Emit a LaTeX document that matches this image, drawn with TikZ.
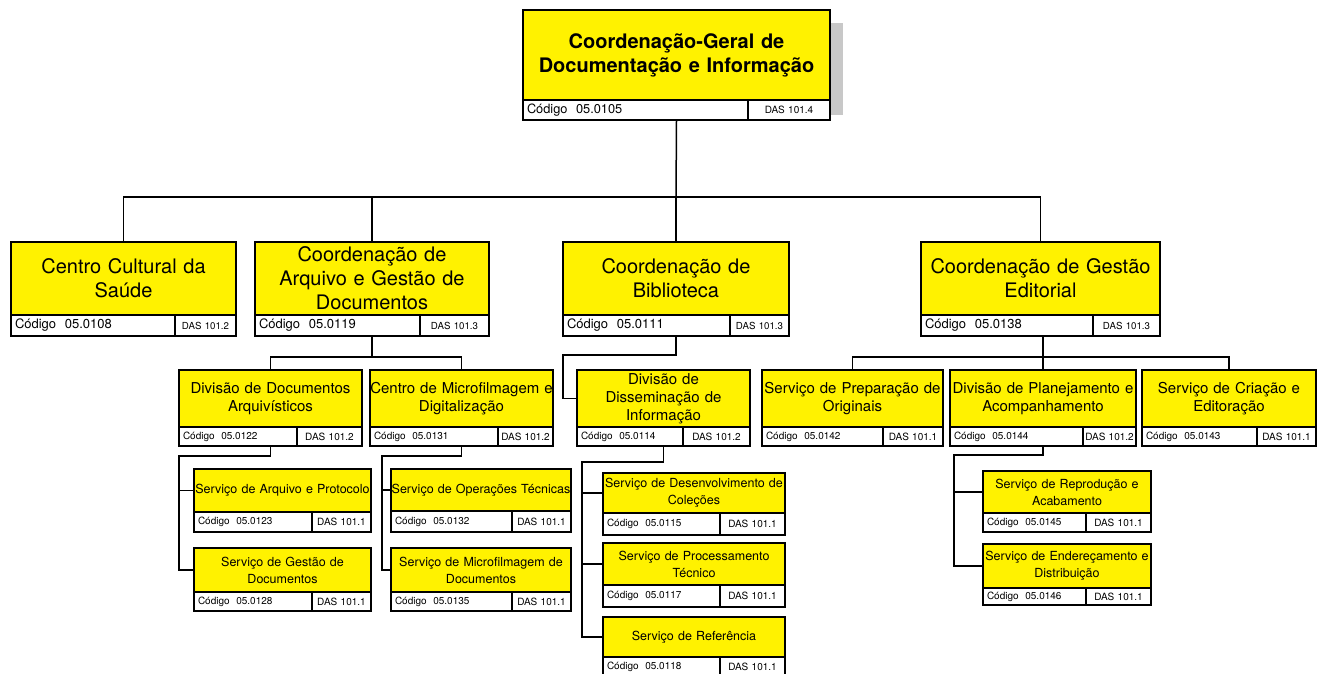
\documentclass[tikz,border=0pt]{standalone}
\usepackage{fontspec}
\setmainfont{TeX Gyre Heros}
\definecolor{myyellow}{RGB}{255,242,0}
\definecolor{shadowgray}{RGB}{200,200,200}
\tikzset{
  ybox/.style={draw, line width=1.5pt, fill=myyellow, inner xsep=0pt, inner ysep=0pt, outer sep=0pt, align=center},
  wbox/.style={draw, line width=1.5pt, fill=white, inner ysep=0pt, outer sep=0pt},
  conn/.style={line width=1.5pt},
  yfont/.style={}, cfont/.style={}, dfont/.style={}
}
\newcommand\obox[8]{%
  \def\on{#1}\def\oxa{#2}\def\oya{#3}\def\oxb{#4}\def\oyb{#5}\def\oyc{#6}\def\oxd{#7}\def\otext{#8}\oboxcont}
\newcommand\oboxcont[2]{%
  \pgfmathsetmacro\ow{\oxb-\oxa}%
  \pgfmathsetmacro\oh{\oyb-\oya}%
  \pgfmathsetmacro\cw{\oxd-\oxa-8}%
  \pgfmathsetmacro\dw{\oxb-\oxd}%
  \pgfmathsetmacro\ch{\oyc-\oyb}%
  \node[ybox, yfont, text width=\ow pt, minimum height=\oh pt, anchor=north west] (\on) at (\oxa,\oya) {\otext};
  \node[wbox, cfont, text width=\cw pt, align=left, inner xsep=4pt, minimum height=\ch pt, anchor=north west] (\on-c) at (\oxa,\oyb) {Código\ \ #1};
  \node[wbox, dfont, text width=\dw pt, align=center, inner xsep=0pt, minimum height=\ch pt, anchor=north west] (\on-d) at (\oxd,\oyb) {DAS #2};
}
\begin{document}
\begin{tikzpicture}[x=1pt,y=-1pt]
\useasboundingbox (0,0) rectangle (1319,673);
% shadow of top box
\fill[shadowgray] (830,23) rectangle (843,115);
% level 1
\tikzset{yfont/.style={font=\fontsize{20}{24}\selectfont\bfseries},
  cfont/.style={font=\fontsize{12.8}{14}\selectfont},
  dfont/.style={font=\fontsize{10}{12}\selectfont}}
\obox{cg}{523}{10}{830}{100}{120}{748}{Coordenação-Geral de\\Documentação e Informação}{05.0105}{101.4}
% level 2
\tikzset{yfont/.style={font=\fontsize{20}{24}\selectfont},
  cfont/.style={font=\fontsize{13}{15}\selectfont},
  dfont/.style={font=\fontsize{9.7}{12}\selectfont}}
\obox{cc}{11}{242}{236}{315}{336}{175}{Centro Cultural da\\Saúde}{05.0108}{101.2}
\obox{arq}{255}{242}{489}{315}{336}{420}{Coordenação de\\Arquivo e Gestão de\\Documentos}{05.0119}{101.3}
\obox{bib}{563}{242}{789}{315}{336}{730}{Coordenação de\\Biblioteca}{05.0111}{101.3}
\obox{edit}{921}{242}{1160}{315}{336}{1093}{Coordenação de Gestão\\Editorial}{05.0138}{101.3}
% level 3
\tikzset{yfont/.style={font=\fontsize{15}{18}\selectfont},
  cfont/.style={font=\fontsize{10}{12}\selectfont},
  dfont/.style={font=\fontsize{10}{12}\selectfont}}
\obox{dda}{179}{370}{362}{427}{446}{297}{Divisão de Documentos\\Arquivísticos}{05.0122}{101.2}
\obox{cmd}{370}{370}{553}{427}{446}{498}{Centro de Microfilmagem e\\Digitalização}{05.0131}{101.2}
\obox{dis}{577}{370}{750}{427}{446}{683}{Divisão de\\Disseminação de\\Informação}{05.0114}{101.2}
\obox{prep}{762}{370}{943}{427}{446}{883}{Serviço de Preparação de\\Originais}{05.0142}{101.1}
\obox{pla}{950}{370}{1136}{427}{446}{1083}{Divisão de Planejamento e\\Acompanhamento}{05.0144}{101.2}
\obox{cri}{1142}{370}{1316}{427}{446}{1257}{Serviço de Criação e\\Editoração}{05.0143}{101.1}
% level 4
\tikzset{yfont/.style={font=\fontsize{12.5}{17}\selectfont},
  cfont/.style={font=\fontsize{10}{12}\selectfont},
  dfont/.style={font=\fontsize{10}{12}\selectfont}}
\obox{sap}{194}{469}{371}{512}{532}{312}{Serviço de Arquivo e Protocolo}{05.0123}{101.1}
\obox{sgd}{194}{548}{371}{592}{611}{312}{Serviço de Gestão de\\Documentos}{05.0128}{101.1}
\obox{sot}{391}{469}{571}{511}{532}{512}{Serviço de Operações Técnicas}{05.0132}{101.1}
\obox{smd}{391}{548}{571}{592}{611}{512}{Serviço de Microfilmagem de\\Documentos}{05.0135}{101.1}
\obox{sdc}{603}{473}{785}{513}{535}{720}{Serviço de Desenvolvimento de\\Coleções}{05.0115}{101.1}
\obox{spt}{603}{543}{785}{585}{607}{720}{Serviço de Processamento\\Técnico}{05.0117}{101.1}
\obox{sref}{603}{617}{785}{657}{676}{720}{Serviço de Referência}{05.0118}{101.1}
\obox{srep}{983}{471}{1151}{513}{532}{1086}{Serviço de Reprodução e\\Acabamento}{05.0145}{101.1}
\obox{send}{983}{544}{1151}{588}{605}{1086}{Serviço de Endereçamento e\\Distribuição}{05.0146}{101.1}
% junctions
\coordinate (j0) at (676,197);
\coordinate (ja) at (372,357);
\coordinate (jb) at (563,355);
\coordinate (je) at (1043,357);
\coordinate (k1) at (179,456);
\coordinate (k2) at (382,456);
\coordinate (k3) at (582,462);
\coordinate (k4) at (954,455);
% connectors
\draw[conn] (cg.center |- cg-c.south) -- (j0);
\draw[conn] (cc.north) |- (j0) -| (edit.north);
\draw[conn] (arq.north) -- (arq.north |- j0);
\draw[conn] (bib.north) -- (bib.north |- j0);
\draw[conn] (arq.center |- arq-c.south) -- (ja);
\draw[conn] (dda.north) |- (ja) -| (cmd.north);
\draw[conn] (bib.center |- bib-c.south) |- (jb) |- (dis.west);
\draw[conn] (pla.north |- edit-c.south) -- (pla.north);
\draw[conn] (prep.north) |- (je) -| (cri.north);
\draw[conn] (dda.center |- dda-c.south) |- (k1) |- (sgd.west);
\draw[conn] (sap.west) -- (sap.west -| k1);
\draw[conn] (cmd.center |- cmd-c.south) |- (k2) |- (smd.west);
\draw[conn] (sot.west) -- (sot.west -| k2);
\draw[conn] (dis.center |- dis-c.south) |- (k3) |- (sref.west);
\draw[conn] (sdc.west) -- (sdc.west -| k3);
\draw[conn] (spt.west) -- (spt.west -| k3);
\draw[conn] (pla.center |- pla-c.south) |- (k4) |- (send.west);
\draw[conn] (srep.west) -- (srep.west -| k4);
\end{tikzpicture}
\end{document}
